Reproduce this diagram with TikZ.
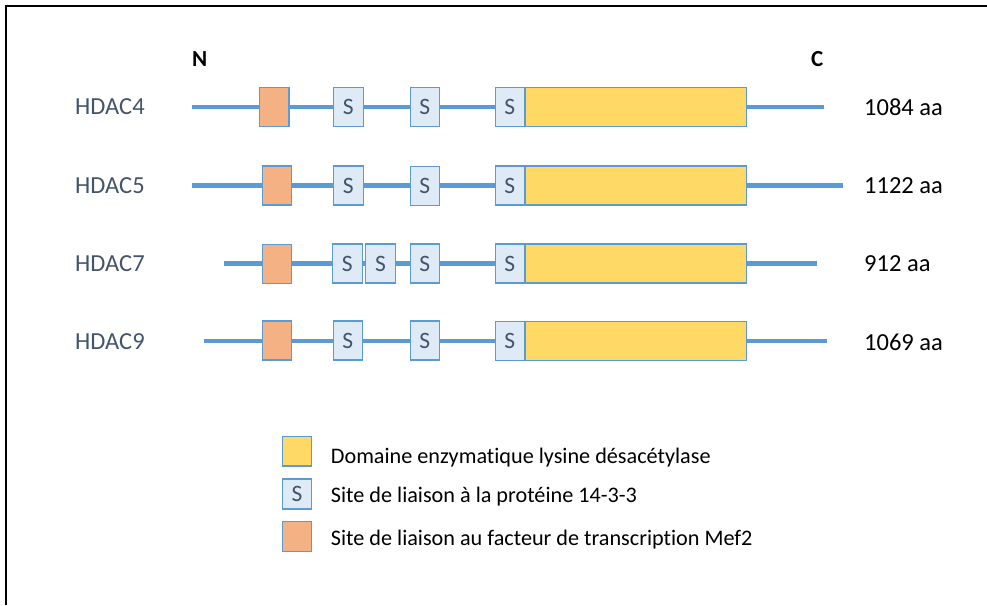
\documentclass[tikz,border=0pt]{standalone}
\usepackage{fontspec}
\setmainfont{Carlito}[Ligatures={NoCommon}]
\definecolor{lineblue}{HTML}{5B9BD5}
\definecolor{sfill}{HTML}{DEEBF7}
\definecolor{ofill}{HTML}{F4B183}
\definecolor{yfill}{HTML}{FFD966}
\definecolor{slate}{HTML}{44546A}
\begin{document}
\begin{tikzpicture}[x=1pt,y=-1pt,
  box/.style={draw=lineblue, line width=1.2pt, inner sep=0pt, minimum height=39pt, anchor=west},
  sbox/.style={box, fill=sfill, minimum width=29.5pt, text=slate, font=\fontsize{23.5}{23.5}\selectfont},
  obox/.style={box, fill=ofill, minimum width=29.5pt},
  ybox/.style={box, fill=yfill, minimum width=220.5pt},
  backbone/.style={draw=lineblue, line width=4.5pt},
  hlabel/.style={anchor=west, inner sep=0pt, text=slate, font=\fontsize{24.5}{24.5}\selectfont},
  aalabel/.style={anchor=west, inner sep=0pt, text=black, font=\fontsize{24.5}{24.5}\selectfont},
  endlabel/.style={anchor=west, inner sep=0pt, text=black, font=\fontsize{23}{23}\selectfont\bfseries},
  legtext/.style={anchor=base west, inner sep=0pt, text=black, font=\fontsize{22.2}{22.2}\selectfont},
  frameline/.style={draw=black, line width=2.4pt}]
\useasboundingbox (0,0) rectangle (987,605);
% frame
\coordinate (fbl) at (6,605);
\coordinate (ftl) at (6,6);
\coordinate (ftr) at (987,6);
\draw[frameline] (fbl) -- (ftl) -- (ftr);
% N / C
\node[endlabel] (N) at (192,59.2) {N};
\node[endlabel] (C) at (811,59.2) {C};
% ---------------- HDAC4
\coordinate (a0) at (192,107);
\coordinate (a9) at (824,107);
\draw[backbone] (a0) -- (a9);
\node[obox] (ao) at (258.8,107) {};
\node[sbox] (as1) at (333,107) {S};
\node[sbox] (as2) at (409.5,107) {S};
\node[sbox] (as3) at (494.5,107) {S};
\node[ybox] (ay) at (as3.east) {};
\node[hlabel] (al) at (75,107) {HDAC4};
\node[aalabel] (aa) at (864,107.5) {1084 aa};
% ---------------- HDAC5
\coordinate (b0) at (192,185.5);
\coordinate (b9) at (843,185.5);
\draw[backbone] (b0) -- (b9);
\node[obox] (bo) at (261.5,185.5) {};
\node[sbox] (bs1) at (333,185.5) {S};
\node[sbox] (bs2) at (409.5,186.2) {S};
\node[sbox] (bs3) at (494.5,185.5) {S};
\node[ybox] (by) at (bs3.east) {};
\node[hlabel] (bl) at (75,185.5) {HDAC5};
\node[aalabel] (ba) at (864,186) {1122 aa};
% ---------------- HDAC7
\coordinate (c0) at (224,263.5);
\coordinate (c9) at (817,263.5);
\draw[backbone] (c0) -- (c9);
\node[obox] (co) at (261.5,264) {};
\node[sbox] (cs1) at (332,263.5) {S};
\node[sbox] (cs2) at (365.2,263.5) {S};
\node[sbox] (cs3) at (409.5,263.5) {S};
\node[sbox] (cs4) at (494.5,263.5) {S};
\node[ybox] (cy) at (cs4.east) {};
\node[hlabel] (cl) at (75,264) {HDAC7};
\node[aalabel] (ca) at (864,264) {912 aa};
% ---------------- HDAC9
\coordinate (d0) at (204,341);
\coordinate (d9) at (827,341);
\draw[backbone] (d0) -- (d9);
\node[obox] (do) at (261.5,340.5) {};
\node[sbox] (ds1) at (332.5,340.5) {S};
\node[sbox] (ds2) at (409.5,340.5) {S};
\node[sbox] (ds3) at (494.5,341) {S};
\node[ybox] (dy) at (ds3.east) {};
\node[hlabel] (dl) at (75,342) {HDAC9};
\node[aalabel] (da) at (864,342) {1069 aa};
% ---------------- legend
\node[box, fill=yfill, minimum width=29.5pt, minimum height=29.5pt] (ly) at (281.7,451.2) {};
\node[sbox, minimum height=30pt] (ls) at (281.7,494) {S};
\node[obox, minimum height=30pt] (lo) at (281.7,536.7) {};
\node[legtext] (lyt) at (330.7,463.5) {Domaine enzymatique lysine désacétylase};
\node[legtext] (lst) at (330.7,502) {Site de liaison à la protéine 14-3-3};
\node[legtext] (lot) at (330.7,545) {Site de liaison au facteur de transcription Mef2};
\end{tikzpicture}
\end{document}
